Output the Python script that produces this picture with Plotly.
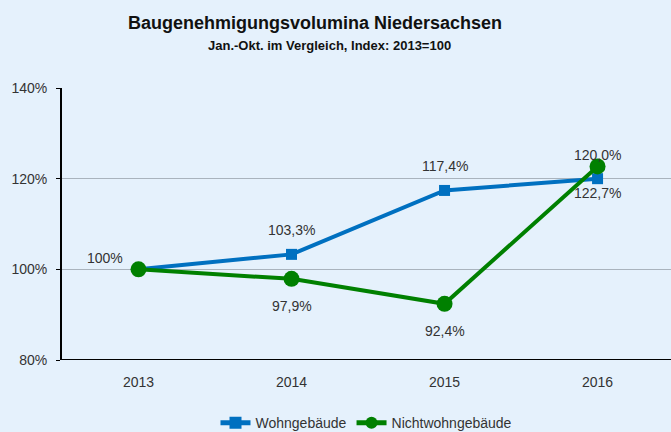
import plotly.graph_objects as go

years = ["2013", "2014", "2015", "2016"]
wohn = [100.0, 103.3, 117.4, 120.0]
nicht = [100.0, 97.9, 92.4, 122.7]
wohn_labels = ["100%", "103,3%", "117,4%", "120,0%"]
nicht_labels = ["", "97,9%", "92,4%", "122,7%"]
yticks = [80, 100, 120, 140]
ytick_text = ["80%", "100%", "120%", "140%"]

FONT = "Liberation Sans, Arial, sans-serif"
BG = "#E5F1FC"
BLUE = "#0070C0"
GREEN = "#008000"

fig = go.Figure()
fig.add_trace(go.Scatter(x=years, y=wohn, name="Wohngebäude", mode="lines+markers",
                         line=dict(color=BLUE, width=4),
                         marker=dict(symbol="square", size=11, color=BLUE)))
fig.add_trace(go.Scatter(x=years, y=nicht, name="Nichtwohngebäude", mode="lines+markers",
                         line=dict(color=GREEN, width=4),
                         marker=dict(symbol="circle", size=16, color=GREEN)))

ann = []
for i, (y, t) in enumerate(zip(wohn, wohn_labels)):
    if i == 0:
        ann.append(dict(x=i, y=y, text=t, showarrow=False, xshift=-34, yshift=11))
    else:
        ann.append(dict(x=i, y=y, text=t, showarrow=False, yshift=24))
for i, (y, t) in enumerate(zip(nicht, nicht_labels)):
    if t:
        ann.append(dict(x=i, y=y, text=t, showarrow=False, yshift=-27))
for a in ann:
    a["xref"] = "x"
    a["yref"] = "y"
    a["font"] = dict(family=FONT, size=14, color="#333333")

ann.append(dict(xref="paper", yref="paper", x=0.415, y=1.0, yshift=65, yanchor="middle",
                text="<b>Baugenehmigungsvolumina Niedersachsen</b>",
                showarrow=False, font=dict(family=FONT, size=18, color="#111111")))
ann.append(dict(xref="paper", yref="paper", x=0.439, y=1.0, yshift=43, yanchor="middle",
                text="<b>Jan.-Okt. im Vergleich, Index: 2013=100</b>",
                showarrow=False, font=dict(family=FONT, size=13, color="#111111")))

fig.update_layout(
    width=671, height=432,
    margin=dict(l=62, r=0, t=88, b=72, autoexpand=False),
    paper_bgcolor=BG, plot_bgcolor=BG,
    font=dict(family=FONT, size=14, color="#333333"),
    annotations=ann,
    showlegend=True,
    legend=dict(orientation="h", x=0.5, xanchor="center", y=-0.232, yanchor="middle",
                itemsizing="constant",
                font=dict(family=FONT, size=14, color="#333333"), bgcolor="rgba(0,0,0,0)"),
    xaxis=dict(type="category", range=[-0.5, 3.48], showgrid=False, showline=False,
               ticks="", ticklabelstandoff=12, tickfont=dict(family=FONT, size=14, color="#333333"),
               zeroline=False),
    yaxis=dict(range=[80, 140], tickvals=yticks, ticktext=ytick_text, showgrid=True,
               gridcolor="#A9B3BD", gridwidth=1, showline=True, linecolor="#000000", linewidth=2,
               ticks="outside", ticklen=4, tickcolor="#000000", zeroline=False,
               ticklabelstandoff=6,
               tickfont=dict(family=FONT, size=14, color="#333333")),
)
fig.add_shape(type="line", xref="paper", yref="y", x0=0, x1=1, y0=80, y1=80,
              line=dict(color="#000000", width=2))
fig.write_html("out.html")
